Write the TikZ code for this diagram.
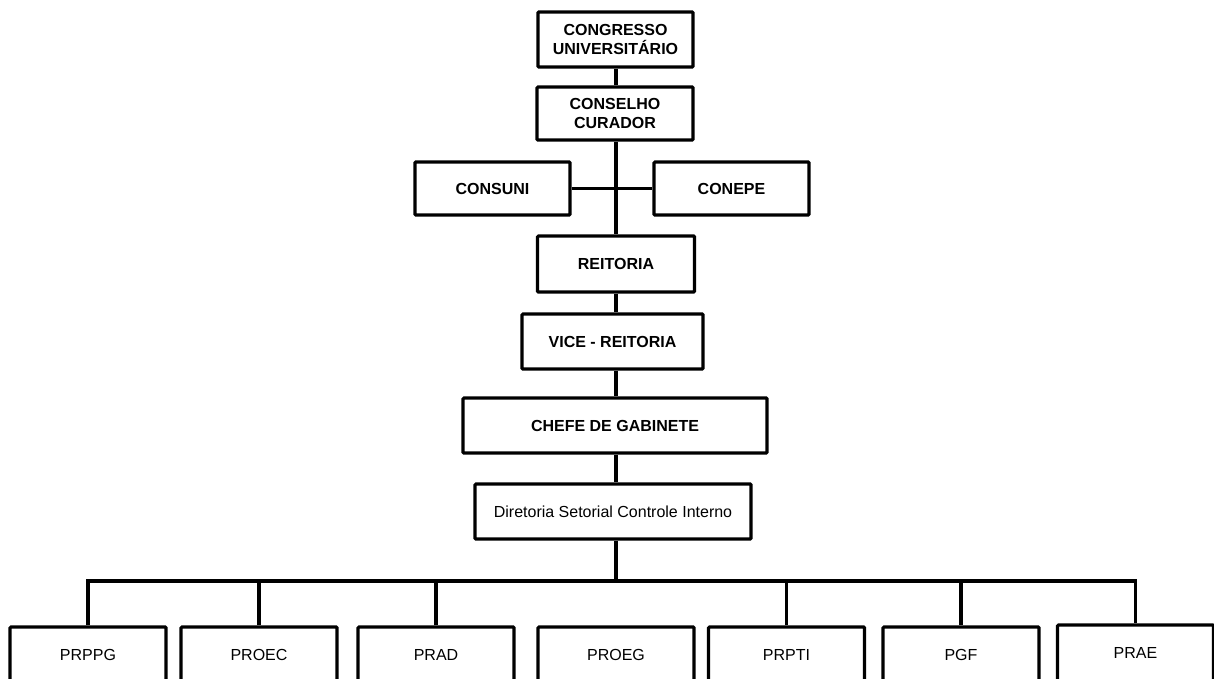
\documentclass[tikz,border=0pt]{standalone}
\usepackage{fontspec}
\setmainfont{Liberation Sans}
\begin{document}
\begin{tikzpicture}[x=1pt,y=-1pt,
  every path/.style={line width=3.2pt, line join=miter},
  orgbox/.style={draw, line width=3.2pt, inner sep=0pt, align=center,
    rounded corners=1pt,
    font=\fontsize{16}{19.5}\selectfont\bfseries},
  unitbox/.style={draw, line width=3.2pt, inner sep=0pt, align=center,
    rounded corners=1pt,
    minimum width=156pt, minimum height=56pt,
    font=\fontsize{16}{19}\selectfont}]
\useasboundingbox (0,0) rectangle (1214,678);

% upper chain of councils and offices
\node[orgbox, minimum width=155pt, minimum height=55pt] (cong) at (615.5,39.5) {CONGRESSO\\UNIVERSITÁRIO};
\node[orgbox, minimum width=156pt, minimum height=53pt] (cons) at (615,113.5) {CONSELHO\\CURADOR};
\node[orgbox, minimum width=155pt, minimum height=53pt] (consuni) at (492.5,188.5) {CONSUNI};
\node[orgbox, minimum width=155pt, minimum height=53pt] (conepe) at (731.5,188.5) {CONEPE};
\node[orgbox, minimum width=157pt, minimum height=56pt] (reit) at (616,264) {REITORIA};
\node[orgbox, minimum width=181pt, minimum height=55pt] (vice) at (612.5,341.5) {VICE - REITORIA};
\node[orgbox, minimum width=304pt, minimum height=55pt] (chefe) at (615,425.5) {CHEFE DE GABINETE};
\node[orgbox, minimum width=276pt, minimum height=55pt, font=\fontsize{16}{19}\selectfont] (dir) at (613,511.5) {Diretoria Setorial Controle Interno};

% pro-rectorates
\node[unitbox] (prppg) at (88,655) {PRPPG};
\node[unitbox] (proec) at (259,655) {PROEC};
\node[unitbox] (prad)  at (436,655) {PRAD};
\node[unitbox] (proeg) at (616,655) {PROEG};
\node[unitbox] (prpti) at (786.5,655) {PRPTI};
\node[unitbox] (pgf)   at (961,655) {PGF};
\node[unitbox] (prae)  at (1135.5,653) {PRAE};

\coordinate (spine) at (616,0);
\coordinate (bus) at (0,581);

% vertical spine
\draw (spine |- cong.south) -- (spine |- cons.north);
\draw (spine |- cons.south) -- (spine |- reit.north);
\draw (consuni.east) -- (conepe.west);
\draw (spine |- reit.south) -- (spine |- vice.north);
\draw (spine |- vice.south) -- (spine |- chefe.north);
\draw (spine |- chefe.south) -- (spine |- dir.north);
\draw (spine |- dir.south) -- (spine |- bus);

% distribution bus
\draw (prppg.north) |- (bus -| prae.north) -- (prae.north);
\draw (proec.north) -- (proec.north |- bus);
\draw (prad.north) -- (prad.north |- bus);
\draw (prpti.north) -- (prpti.north |- bus);
\draw (pgf.north) -- (pgf.north |- bus);
\end{tikzpicture}
\end{document}
